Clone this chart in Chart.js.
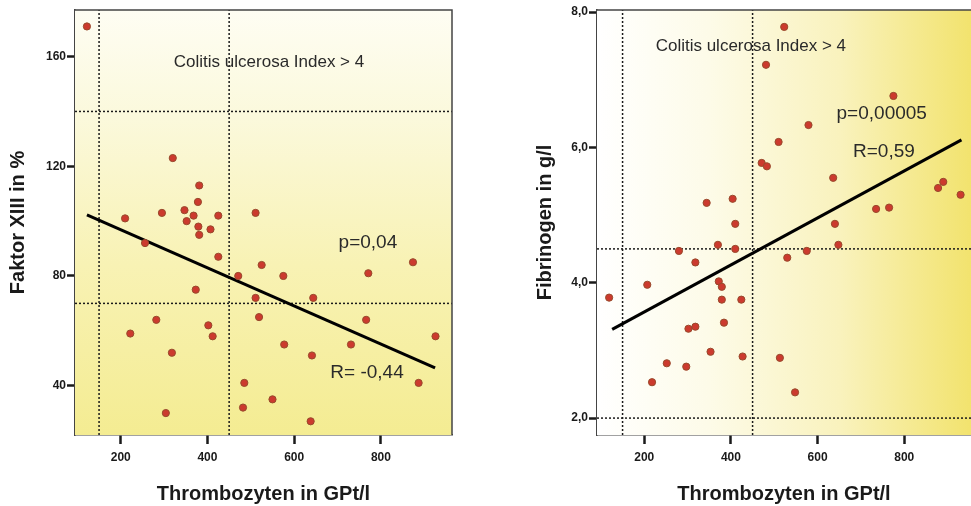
<!DOCTYPE html>
<html>
<head>
<meta charset="utf-8">
<script src="https://cdn.jsdelivr.net/npm/chart.js@4.4.0/dist/chart.umd.min.js"></script>
<style>
    html, body { margin: 0; padding: 0; background: #ffffff; overflow: hidden; }
    .box { position: absolute; top: 0; height: 506px; }
    #boxLeft { left: 0; width: 485px; }
    #boxRight { left: 527px; width: 449px; }
</style>
</head>
<body>
<div class="box" id="boxLeft"><canvas id="chartFaktor" width="485" height="506"></canvas></div>
<div class="box" id="boxRight"><canvas id="chartFibrinogen" width="449" height="506"></canvas></div>
<script>
// Thrombozyten (GPt/l) vs Faktor XIII (%)
const faktorThrombo = [122, 320, 381, 378, 210, 295, 347, 368, 352, 425, 379, 381, 407, 511, 256,
    425, 525, 471, 575, 771, 874, 373, 511, 644, 519, 282, 766, 222, 402, 412,
    926, 577, 731, 318, 641, 485, 887, 482, 304, 550, 638];
const faktorWerte = [171, 123, 113, 107, 101, 103, 104, 102, 100, 102, 98, 95, 97, 103, 92,
    87, 84, 80, 80, 81, 85, 75, 72, 72, 65, 64, 64, 59, 62, 58,
    58, 55, 55, 52, 51, 41, 41, 32, 30, 35, 27];

// Thrombozyten (GPt/l) vs Fibrinogen (g/l)
const fibThrombo = [523, 481, 775, 579, 510, 471, 483, 636, 890, 878, 930, 735, 765, 344, 404,
    410, 640, 648, 370, 410, 280, 318, 207, 119, 372, 379, 379, 424, 384, 302,
    318, 353, 427, 513, 252, 297, 218, 575, 530, 548];
const fibWerte = [7.78, 7.22, 6.76, 6.33, 6.08, 5.77, 5.72, 5.55, 5.49, 5.40, 5.30, 5.09, 5.11, 5.18, 5.24,
    4.87, 4.87, 4.56, 4.56, 4.50, 4.47, 4.30, 3.97, 3.78, 4.02, 3.94, 3.75, 3.75, 3.41, 3.32,
    3.35, 2.98, 2.91, 2.89, 2.81, 2.76, 2.53, 4.47, 4.37, 2.38];

// Regressionsgeraden (Endpunkte)
const faktorRegX = [122, 925];
const faktorRegY = [102.3, 46.5];
const fibRegX = [126, 932];
const fibRegY = [3.31, 6.11];

// Grenzwerte (gepunktete Linien)
const faktorCutX = [150, 450];
const faktorCutY = [70, 140];
const fibCutX = [150, 450];
const fibCutY = [2.0, 4.5];

// Achsen
const xRangeFaktor = [94.5, 964];
const yRangeFaktor = [22, 177];
const xRangeFib = [91, 954];
const yRangeFib = [1.75, 8.03];
const xTitle = 'Thrombozyten in GPt/l';

// Beschriftungen im Diagramm
const faktorNoteText = ['Colitis ulcerosa Index > 4', 'p=0,04', 'R= -0,44'];
const faktorNoteX = [542, 770, 768];
const faktorNoteY = [158, 92, 44.6];
const fibNoteText = ['Colitis ulcerosa Index > 4', 'p=0,00005', 'R=0,59'];
const fibNoteX = [446, 748, 753];
const fibNoteY = [7.5, 6.49, 5.93];
const noteSize = [17, 19, 19];

function toPoints(xs, ys) {
    return xs.map((x, i) => ({ x: x, y: ys[i] }));
}

// Gepunktete Linien über die ganze Achse
function cutLines(cutX, cutY, xr, yr) {
    const sets = [];
    cutX.forEach(function (v) {
        sets.push(toPoints([v, v], yr));
    });
    cutY.forEach(function (v) {
        sets.push(toPoints(xr, [v, v]));
    });
    return sets.map(function (d) {
        return {
            data: d, showLine: true, pointRadius: 0, borderColor: '#1a1a1a',
            borderWidth: 1.5, borderDash: [2, 2], order: 3
        };
    });
}

// Hintergrund, Rahmen und Texte
const plotDeco = {
    id: 'plotDeco',
    beforeDatasetsDraw(chart, args, opts) {
        const a = chart.chartArea, ctx = chart.ctx;
        ctx.save();
        let g;
        if (opts.horizontal) {
            g = ctx.createLinearGradient(a.left, 0, a.right, 0);
            g.addColorStop(0, '#ffffff');
            g.addColorStop(0.3, '#fdfbe8');
            g.addColorStop(0.65, '#f9f2bd');
            g.addColorStop(1, '#f2e36e');
        } else {
            g = ctx.createLinearGradient(0, a.top, 0, a.bottom);
            g.addColorStop(0, '#fefdf3');
            g.addColorStop(0.25, '#fbf9dc');
            g.addColorStop(0.6, '#f8f2b4');
            g.addColorStop(1, '#f4ec92');
        }
        ctx.fillStyle = g;
        ctx.fillRect(a.left, a.top, a.right - a.left, a.bottom - a.top);
        ctx.restore();
    },
    afterDatasetsDraw(chart, args, opts) {
        const a = chart.chartArea, ctx = chart.ctx;
        const xs = chart.scales.x, ys = chart.scales.y;
        ctx.save();
        ctx.strokeStyle = '#444';
        ctx.lineWidth = 1.5;
        ctx.beginPath();
        ctx.moveTo(a.left, a.top);
        ctx.lineTo(a.right, a.top);
        if (opts.rightBorder) ctx.lineTo(a.right, a.bottom);
        ctx.stroke();
        ctx.fillStyle = '#2a2a2a';
        ctx.textAlign = 'center';
        ctx.textBaseline = 'middle';
        opts.texts.forEach(function (t, i) {
            ctx.font = noteSize[i] + 'px Arial';
            ctx.fillText(t, xs.getPixelForValue(opts.xs[i]), ys.getPixelForValue(opts.ys[i]));
        });
        ctx.restore();
    }
};

function makeChart(canvasId, cfg) {
    const ctx = document.getElementById(canvasId).getContext('2d');
    const datasets = [
        {
            data: toPoints(cfg.px, cfg.py), pointRadius: 3.6, pointBackgroundColor: '#cc3a2e',
            pointBorderColor: '#984a2c', pointBorderWidth: 1, order: 1
        },
        {
            data: toPoints(cfg.regX, cfg.regY), showLine: true, pointRadius: 0,
            borderColor: '#000000', borderWidth: 3, order: 2
        }
    ].concat(cutLines(cfg.cutX, cfg.cutY, cfg.xr, cfg.yr));

    return new Chart(ctx, {
        type: 'scatter',
        data: { datasets: datasets },
        plugins: [plotDeco],
        options: {
            responsive: false,
            animation: false,
            layout: { padding: { top: 10, right: cfg.padRight, bottom: 0, left: 0 } },
            plugins: {
                legend: { display: false },
                tooltip: { enabled: false },
                plotDeco: { horizontal: cfg.horizontal, rightBorder: cfg.rightBorder, texts: cfg.texts, xs: cfg.nx, ys: cfg.ny }
            },
            scales: {
                x: {
                    min: cfg.xr[0], max: cfg.xr[1],
                    afterFit(s) { s.height = 71; s.paddingLeft = 0; s.paddingRight = 0; },
                    border: { color: '#444', width: 1.5 },
                    grid: { drawOnChartArea: false, tickLength: 9, tickWidth: 2.5, tickColor: '#1a1a1a' },
                    ticks: {
                        stepSize: 200, includeBounds: false, padding: 6, color: '#1a1a1a',
                        font: { family: 'Arial', size: 12, weight: 'bold' }, maxRotation: 0
                    },
                    title: {
                        display: true, text: xTitle, color: '#1a1a1a', padding: { top: 0, bottom: 0 },
                        font: { family: 'Arial', size: 20, weight: 'bold' }
                    }
                },
                y: {
                    min: cfg.yr[0], max: cfg.yr[1],
                    afterFit(s) { s.width = cfg.yWidth; s.paddingTop = 0; s.paddingBottom = 0; },
                    border: { color: '#444', width: 1.5 },
                    grid: { drawOnChartArea: false, tickLength: 8, tickWidth: 2.5, tickColor: '#1a1a1a' },
                    ticks: {
                        stepSize: cfg.yStep, includeBounds: false, padding: 1, color: '#1a1a1a',
                        font: { family: 'Arial', size: 12, weight: 'bold' }, callback: cfg.yFormat
                    },
                    title: {
                        display: true, text: cfg.yTitle, color: '#1a1a1a', padding: { top: 6, bottom: 0 },
                        font: { family: 'Arial', size: 20, weight: 'bold' }
                    }
                }
            }
        }
    });
}

document.addEventListener('DOMContentLoaded', function () {
    makeChart('chartFaktor', {
        px: faktorThrombo, py: faktorWerte, regX: faktorRegX, regY: faktorRegY,
        cutX: faktorCutX, cutY: faktorCutY, xr: xRangeFaktor, yr: yRangeFaktor,
        yStep: 40, yTitle: 'Faktor XIII in %', yWidth: 75, padRight: 33,
        yFormat: function (v) { return String(v); },
        horizontal: false, rightBorder: true,
        texts: faktorNoteText, nx: faktorNoteX, ny: faktorNoteY
    });
    makeChart('chartFibrinogen', {
        px: fibThrombo, py: fibWerte, regX: fibRegX, regY: fibRegY,
        cutX: fibCutX, cutY: fibCutY, xr: xRangeFib, yr: yRangeFib,
        yStep: 2, yTitle: 'Fibrinogen in g/l', yWidth: 70, padRight: 0,
        yFormat: function (v) { return v.toFixed(1).replace('.', ','); },
        horizontal: true, rightBorder: false,
        texts: fibNoteText, nx: fibNoteX, ny: fibNoteY
    });
});
</script>
</body>
</html>
